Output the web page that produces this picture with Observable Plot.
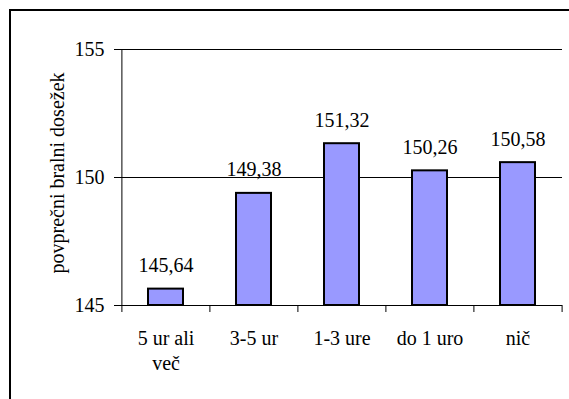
<!DOCTYPE html>
<html>
<head>
<meta charset="utf-8">
<script src="https://cdn.jsdelivr.net/npm/d3@7"></script>
<script src="https://cdn.jsdelivr.net/npm/@observablehq/plot@0.6"></script>
<style>
  html, body { margin: 0; padding: 0; background: #fff; overflow: hidden; }
  #wrap { position: relative; width: 569px; height: 399px; overflow: hidden; background: #fff; }
  #chart { position: absolute; left: 0; top: 0; }
  #chart svg text, #chart svg tspan { font-family: "Times New Roman", "Liberation Serif", serif !important; font-variant: normal !important; }
  .bline { position: absolute; background: #000; }
</style>
</head>
<body>
<div id="wrap">
  <div id="chart"></div>
  <div class="bline" style="left:9px; top:9px; width:560px; height:2px;"></div>
  <div class="bline" style="left:9px; top:9px; width:2px; height:390px;"></div>
</div>
<script>
const categories = ["5 ur ali več", "3-5 ur", "1-3 ure", "do 1 uro", "nič"];
const values = [145.64, 149.38, 151.32, 150.26, 150.58];
const yTicks = [145, 150, 155];
const yLabel = "povprečni bralni dosežek";

const data = categories.map((c, i) => ({cat: c, value: values[i]}));
const W = 569, H = 399;
const mL = 121, mR = 7, mT = 49, mB = 94;
const FF = "Times New Roman, Liberation Serif, serif";
const yDomain = [yTicks[0], yTicks[yTicks.length - 1]];
const xOpts = {type: "band", domain: categories, paddingInner: 0.6, paddingOuter: 0.3};
const xs = Plot.scale({x: {...xOpts, range: [mL, W - mR]}});
const half = xs.step / 2;
const last = categories[categories.length - 1];

const plot = Plot.plot({
  width: W, height: H,
  marginLeft: mL, marginRight: mR, marginTop: mT, marginBottom: mB,
  style: {fontFamily: FF, fontSize: "20px", color: "#000", background: "transparent", overflow: "visible"},
  x: {...xOpts, label: null},
  y: {domain: yDomain, label: null},
  marks: [
    Plot.ruleY(yTicks.slice(1), {stroke: "#000", strokeWidth: 1}),
    Plot.barY(data, {x: "cat", y1: () => yDomain[0], y2: "value", fill: "#9999FF", stroke: "#000", strokeWidth: 2}),
    Plot.ruleY([yDomain[0]], {stroke: "#000", strokeWidth: 1}),
    Plot.ruleX(categories, {x: d => d, dx: -half, y1: yDomain[0], y2: yDomain[0], insetBottom: -7, stroke: "#000"}),
    Plot.ruleX([last], {x: d => d, dx: half, y1: yDomain[0], y2: yDomain[0], insetBottom: -7, stroke: "#000"}),
    Plot.ruleX([categories[0]], {x: d => d, dx: -half, y1: yDomain[0], y2: yDomain[1], stroke: "#000"}),
    Plot.axisY({ticks: yTicks, tickSize: 7, tickPadding: 10, tickFormat: d => String(d), label: null, stroke: "#000", fontFamily: FF}),
    Plot.axisX({tickSize: 0, tickPadding: 22, lineHeight: 1.25, tickFormat: d => d.replace("ali ", "ali\n"), label: null, fontFamily: FF}),
    Plot.text(data, {x: "cat", y: "value", text: d => d.value.toFixed(2).replace(".", ","), lineAnchor: "bottom", dy: -17, fill: "#000", fontFamily: FF}),
    Plot.text([yLabel], {frameAnchor: "left", textAnchor: "middle", lineAnchor: "middle", rotate: -90, dx: -64, dy: -4.5, text: d => d, fill: "#000", fontFamily: FF})
  ]
});
document.getElementById("chart").appendChild(plot);
</script>
</body>
</html>
